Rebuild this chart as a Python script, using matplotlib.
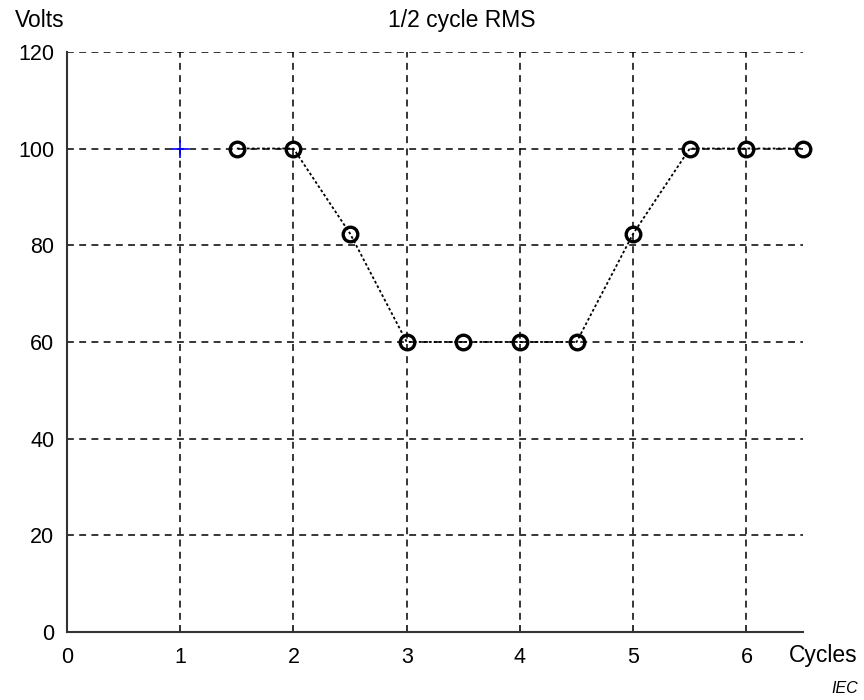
import matplotlib
matplotlib.use("Agg")
import matplotlib.pyplot as plt

plt.rcParams['font.family'] = ['Liberation Sans', 'DejaVu Sans']

# half-cycle RMS voltage readings during the sag
cycles = [1.5, 2, 2.5, 3, 3.5, 4, 4.5, 5, 5.5, 6, 6.5]
volts = [100, 100, 82.4, 60, 60, 60, 60, 82.4, 100, 100, 100]
# reference point (start of event)
start_x = [1]
start_y = [100]

xticks = [0, 1, 2, 3, 4, 5, 6]
yticks = [0, 20, 40, 60, 80, 100, 120]

fig = plt.figure(figsize=(8.64, 7), dpi=100)
ax = fig.add_axes([0.0775, 0.097, 0.852, 0.829])

ax.plot(cycles, volts, color='black', linestyle=(0, (1.5, 1.3)), linewidth=1.3,
        marker='o', markersize=10.5, markerfacecolor='none',
        markeredgecolor='black', markeredgewidth=2.4, clip_on=False, zorder=3)
ax.plot(start_x, start_y, marker='+', color='blue', markersize=13,
        markeredgewidth=1.2, linestyle='none', zorder=3)

ax.set_xlim(0, 6.5)
ax.set_ylim(0, 120)
ax.set_xticks(xticks)
ax.set_yticks(yticks)
ax.tick_params(labelsize=15.5, direction='in', length=5, width=1.2, color='#333333')
ax.tick_params(axis='x', pad=11)
ax.tick_params(axis='y', length=0, pad=9)

ax.grid(True, color='black', linestyle=(0, (4.5, 3.5)), linewidth=1.1)
for side in ['top', 'right']:
    ax.spines[side].set_visible(False)
for side in ['left', 'bottom']:
    ax.spines[side].set_linewidth(1.5)
    ax.spines[side].set_color('#333333')

fig.text(0.534, 0.971, '1/2 cycle RMS', ha='center', va='center', fontsize=16.5)
fig.text(0.017, 0.971, 'Volts', ha='left', va='center', fontsize=16.5)
fig.text(0.993, 0.064, 'Cycles', ha='right', va='center', fontsize=16.5)
fig.text(0.993, 0.017, 'IEC', ha='right', va='center', fontsize=11.5, style='italic')

fig.savefig('out.png', dpi=100)
